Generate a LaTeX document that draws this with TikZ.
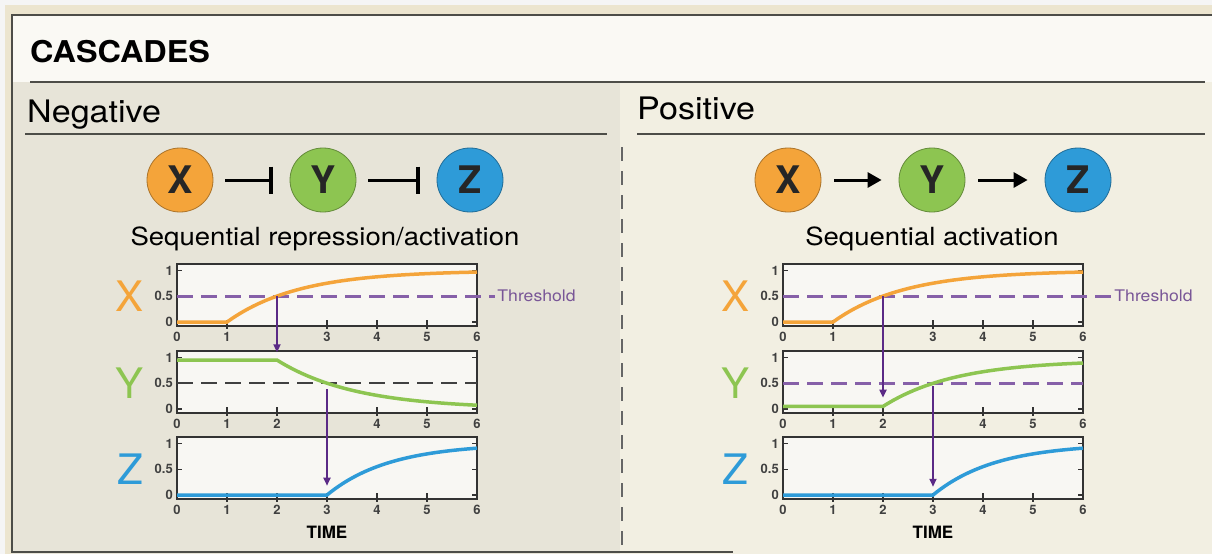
\documentclass[tikz,border=0pt]{standalone}
\usepackage{fontspec}
\setmainfont{TeX Gyre Heros}
\usetikzlibrary{arrows.meta,shapes.geometric}
\definecolor{frameline}{HTML}{4D4D48}
\definecolor{outerbeige}{HTML}{ECE5CF}
\definecolor{titlebg}{HTML}{FAF9F4}
\definecolor{negbg}{HTML}{E7E4D8}
\definecolor{posbg}{HTML}{F2EFE2}
\definecolor{boxbg}{HTML}{F8F7F3}
\definecolor{xorange}{HTML}{F4A43A}
\definecolor{ygreen}{HTML}{8DC551}
\definecolor{zblue}{HTML}{2E9BD8}
\definecolor{signal}{HTML}{5B2A86}
\definecolor{threshcol}{HTML}{8660A8}

% box, ticks and tick labels of one time panel
\newcommand{\plotbox}[1]{%
  \fill[boxbg] (0,-0.08) rectangle (6,1.12);
  \foreach \tk in {1,...,5}
    \draw[tickmark] (\tk,-0.13) -- (\tk,0.03);
  \foreach \vv in {0,0.5,1} {
    \draw[tickmark] (0,\vv) -- (0.1,\vv);
    \draw[tickmark] (6,\vv) -- (5.9,\vv);
  }
  \draw[plotframe] (0,-0.08) rectangle (6,1.12);
  \foreach \tk in {#1}
    \node[ticklabel] (tl\tk) at (\tk,-0.08) {\tk};
  \node[vlabel] (vone) at (0,1) {1};
  \node[vlabel] (vhalf) at (0,0.5) {0.5};
  \node[vlabel] (vzero) at (0,0) {0};
}

\begin{document}
\begin{tikzpicture}[x=1pt, y=-1pt,
    gene/.style={ellipse, minimum width=66pt, minimum height=64pt, inner sep=0pt,
      line width=0.8pt, font=\fontsize{38}{42}\selectfont\bfseries, text=black!85},
    repress/.style={line width=3pt, -{Bar[width=27pt, line width=3.5pt]},
      shorten <=12pt, shorten >=17pt},
    activate/.style={line width=3pt, -{Triangle[length=14pt, width=15pt]},
      shorten <=13pt, shorten >=17pt},
    headtext/.style={anchor=base west, inner sep=0pt, xscale=1.1,
      font=\fontsize{31}{36}\selectfont},
    subtext/.style={anchor=base, inner sep=0pt, xscale=1.1,
      font=\fontsize{25}{30}\selectfont},
    plotframe/.style={draw=black!80, line width=2pt},
    tickmark/.style={draw=black!80, line width=1.5pt},
    ticklabel/.style={anchor=north, inner sep=0pt, yshift=-6pt,
      font=\fontsize{13}{14}\selectfont\bfseries, text=black!75},
    vlabel/.style={anchor=east, inner sep=0pt, xshift=-4pt,
      font=\fontsize{13}{14}\selectfont\bfseries, text=black!75},
    biglabel/.style={inner sep=0pt, font=\fontsize{42}{46}\selectfont},
    thr/.style={threshcol, line width=2.5pt, dash pattern=on 16pt off 8pt},
    thrgray/.style={black!75, line width=2pt, dash pattern=on 16pt off 8pt},
    thrlabel/.style={anchor=west, inner sep=1pt, xscale=1.1, text=threshcol!90!black,
      font=\fontsize{16}{18}\selectfont},
    timelabel/.style={inner sep=0pt, font=\fontsize{17}{20}\selectfont\bfseries},
    xcurve/.style={xorange, line width=3.5pt},
    ycurve/.style={ygreen, line width=3.5pt},
    zcurve/.style={zblue, line width=3.5pt},
    sigarrow/.style={signal, line width=1.8pt, -{Triangle[length=8pt, width=7pt]}}]
  \useasboundingbox (0,0) rectangle (1212,554);
  % backgrounds
  \fill[gray!8] (0,0) rectangle (1212,554);
  \fill[outerbeige] (5,5) rectangle (1212,554);
  \fill[titlebg] (12,15) rectangle (1212,82);
  \fill[negbg] (12,82) rectangle (620,554);
  \fill[posbg] (620,82) rectangle (1212,554);
  % frame and rules
  \draw[frameline, line width=1.5pt] (1212,15) -- (12,15) -- (12,552) -- (733,552);
  \draw[frameline, line width=2pt] (30,82) -- (1205,82);
  \draw[frameline, line width=1.5pt] (25,134) -- (607,134);
  \draw[frameline, line width=1.5pt] (637,134) -- (1205,134);
  \draw[black!60, line width=2pt, dash pattern=on 14pt off 10pt] (622,147) -- (622,552);

  \node[anchor=base west, inner sep=0pt, xscale=1.08,
    font=\fontsize{30}{36}\selectfont\bfseries] (title) at (30,62) {CASCADES};
  \node[headtext] (negHead) at (27,122) {Negative};
  \node[headtext] (posHead) at (637,119) {Positive};

  % negative cascade
  \node[gene, fill=xorange, draw=xorange!70!black] (Xn) at (180,180) {X};
  \node[gene, fill=ygreen, draw=ygreen!70!black] (Yn) at (323,180) {Y};
  \node[gene, fill=zblue, draw=zblue!70!black] (Zn) at (470,180) {Z};
  \draw[repress] (Xn) -- (Yn);
  \draw[repress] (Yn) -- (Zn);
  \node[subtext] (negSub) at (325,245) {Sequential repression/activation};

  % positive cascade
  \node[gene, fill=xorange, draw=xorange!70!black] (Xp) at (788,180) {X};
  \node[gene, fill=ygreen, draw=ygreen!70!black] (Yp) at (932,180) {Y};
  \node[gene, fill=zblue, draw=zblue!70!black] (Zp) at (1078,180) {Z};
  \draw[activate] (Xp) -- (Yp);
  \draw[activate] (Yp) -- (Zp);
  \node[subtext] (posSub) at (932,245) {Sequential activation};

  % negative: time courses
  \begin{scope}[shift={(177,322)}, x=50pt, y=51.5pt]
    \plotbox{0,1,3,4,5,6}
    \draw[thr] (0,0.5) -- (6.36,0.5) node[thrlabel] (thrN) {Threshold};
    \draw[xcurve] (0,0) -- (1,0) -- plot[domain=1:6, samples=40] (\x,{1-exp(-0.7*(\x-1))});
    \node[biglabel, text=xorange] (bigXn) at (-0.94,0.5) {X};
    \coordinate (sN1) at (2,0.5);
  \end{scope}
  \begin{scope}[shift={(177,409)}, x=50pt, y=51.5pt]
    \plotbox{0,1,2,4,5,6}
    \draw[thrgray] (0,0.5) -- (6,0.5);
    \draw[ycurve] (0,0.95) -- (2,0.95) -- plot[domain=2:6, samples=40] (\x,{0.95*exp(-0.64*(\x-2))});
    \node[biglabel, text=ygreen] (bigYn) at (-0.94,0.5) {Y};
    \coordinate (eN1) at (2,1.1);
    \coordinate (sN2) at (3,0.38);
  \end{scope}
  \begin{scope}[shift={(177,495)}, x=50pt, y=51.5pt]
    \plotbox{0,...,6}
    \draw[zcurve] (0,0) -- (3,0) -- plot[domain=3:6, samples=40] (\x,{1-exp(-0.8*(\x-3))});
    \node[biglabel, text=zblue] (bigZn) at (-0.94,0.5) {Z};
    \node[timelabel] (timeN) at (3,-0.72) {TIME};
    \coordinate (eN2) at (3,0.18);
  \end{scope}
  \draw[sigarrow] (sN1) -- (eN1);
  \draw[sigarrow] (sN2) -- (eN2);

  % positive: time courses
  \begin{scope}[shift={(783,322)}, x=50pt, y=51.5pt]
    \plotbox{0,1,3,4,5,6}
    \draw[thr] (0,0.5) -- (6.58,0.5) node[thrlabel] (thrP) {Threshold};
    \draw[xcurve] (0,0) -- (1,0) -- plot[domain=1:6, samples=40] (\x,{1-exp(-0.7*(\x-1))});
    \node[biglabel, text=xorange] (bigXp) at (-0.96,0.5) {X};
    \coordinate (sP1) at (2,0.5);
  \end{scope}
  \begin{scope}[shift={(783,409)}, x=50pt, y=51.5pt]
    \plotbox{0,1,2,4,5,6}
    \draw[thr] (0,0.5) -- (6,0.5);
    \draw[ycurve] (0,0.05) -- (2,0.05) -- plot[domain=2:6, samples=40] (\x,{0.05+0.9*(1-exp(-0.69*(\x-2)))});
    \node[biglabel, text=ygreen] (bigYp) at (-0.96,0.5) {Y};
    \coordinate (eP1) at (2,0.22);
    \coordinate (sP2) at (3,0.44);
  \end{scope}
  \begin{scope}[shift={(783,495)}, x=50pt, y=51.5pt]
    \plotbox{0,...,6}
    \draw[zcurve] (0,0) -- (3,0) -- plot[domain=3:6, samples=40] (\x,{1-exp(-0.8*(\x-3))});
    \node[biglabel, text=zblue] (bigZp) at (-0.96,0.5) {Z};
    \node[timelabel] (timeP) at (3,-0.72) {TIME};
    \coordinate (eP2) at (3,0.16);
  \end{scope}
  \draw[sigarrow] (sP1) -- (eP1);
  \draw[sigarrow] (sP2) -- (eP2);
\end{tikzpicture}
\end{document}
